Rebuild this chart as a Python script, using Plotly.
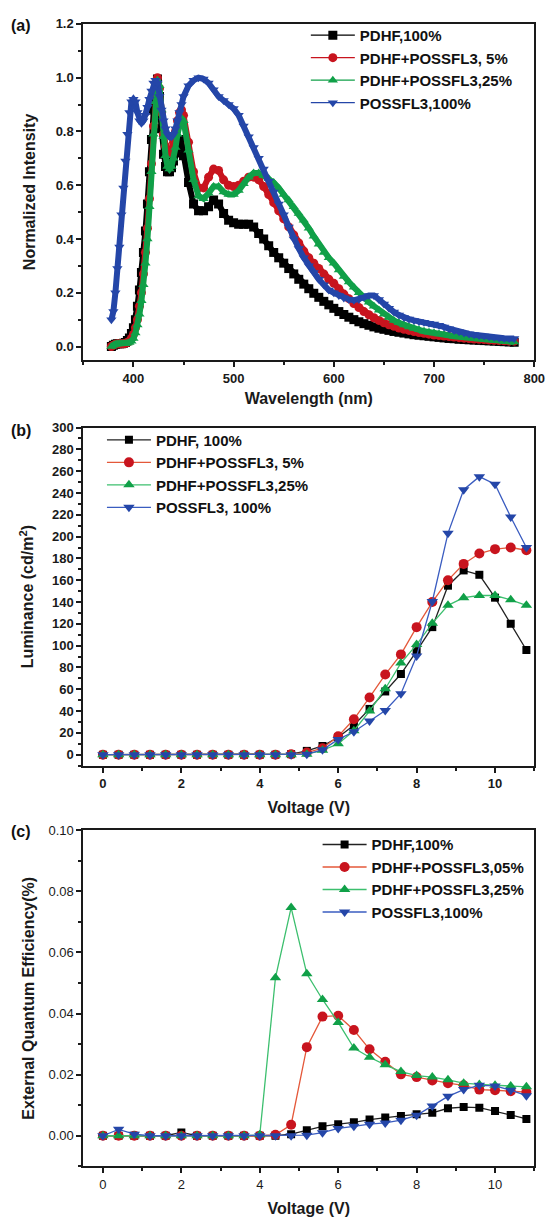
import plotly.graph_objects as go

# ---------------- data ----------------
wavelength = [378, 380, 382, 384, 386, 388, 390, 392, 394, 396, 398,
              400, 402, 404, 406, 408, 410, 412, 414, 416, 418, 420, 422, 424, 426, 428,
              430, 432, 434, 436, 438, 440, 442, 444, 446, 448, 450,
              455, 460, 465, 470, 475, 480, 485, 490, 495, 500, 505, 510, 515, 520,
              525, 530, 535, 540, 545, 550, 555, 560, 565, 570, 575, 580, 585, 590,
              595, 600, 605, 610, 615, 620, 625, 630, 635, 640, 645, 650, 655, 660,
              665, 670, 675, 680, 685, 690, 695, 700, 705, 710, 715, 720, 725, 730,
              735, 740, 745, 750, 755, 760, 765, 770, 775, 780]

pl_pdhf = [0.000, 0.005, 0.008, 0.010, 0.010, 0.010, 0.012, 0.015, 0.022, 0.032, 0.048,
           0.070, 0.100, 0.150, 0.210, 0.275, 0.350, 0.430, 0.530, 0.650, 0.770, 0.880, 0.970, 0.995, 0.930, 0.810,
           0.715, 0.670, 0.650, 0.650, 0.665, 0.690, 0.720, 0.750, 0.770, 0.760, 0.710,
           0.610, 0.530, 0.505, 0.505, 0.520, 0.545, 0.530, 0.495, 0.470, 0.460, 0.455, 0.455, 0.455, 0.445,
           0.420, 0.400, 0.375, 0.350, 0.330, 0.310, 0.290, 0.270, 0.250, 0.232, 0.215, 0.198, 0.183, 0.168,
           0.155, 0.142, 0.130, 0.119, 0.109, 0.100, 0.092, 0.085, 0.079, 0.073, 0.068, 0.064, 0.060, 0.056,
           0.053, 0.050, 0.047, 0.044, 0.042, 0.040, 0.038, 0.036, 0.034, 0.032, 0.030, 0.029, 0.027, 0.026,
           0.025, 0.024, 0.023, 0.022, 0.021, 0.020, 0.019, 0.018, 0.017, 0.016]
pl_5 = [0.000, 0.005, 0.008, 0.010, 0.010, 0.010, 0.010, 0.012, 0.015, 0.020, 0.030,
        0.045, 0.070, 0.100, 0.150, 0.200, 0.270, 0.350, 0.440, 0.550, 0.680, 0.820, 0.940, 1.000, 0.960, 0.870,
        0.790, 0.745, 0.725, 0.720, 0.730, 0.760, 0.800, 0.840, 0.870, 0.880, 0.860,
        0.760, 0.650, 0.590, 0.590, 0.630, 0.660, 0.655, 0.620, 0.600, 0.595, 0.600, 0.615, 0.630, 0.630,
        0.620, 0.595, 0.565, 0.535, 0.505, 0.475, 0.445, 0.415, 0.385, 0.355, 0.330, 0.310, 0.290, 0.270,
        0.250, 0.235, 0.215, 0.195, 0.178, 0.160, 0.145, 0.130, 0.118, 0.107, 0.097, 0.088, 0.081, 0.075,
        0.069, 0.064, 0.060, 0.056, 0.052, 0.049, 0.046, 0.043, 0.041, 0.039, 0.037, 0.035, 0.033, 0.031,
        0.030, 0.028, 0.027, 0.026, 0.024, 0.023, 0.022, 0.021, 0.020, 0.020]
pl_25 = [0.000, 0.005, 0.008, 0.010, 0.010, 0.010, 0.010, 0.010, 0.012, 0.015, 0.020,
         0.030, 0.050, 0.080, 0.120, 0.170, 0.230, 0.310, 0.400, 0.520, 0.650, 0.790, 0.910, 0.990, 0.970, 0.880,
         0.780, 0.710, 0.670, 0.660, 0.670, 0.700, 0.740, 0.790, 0.830, 0.850, 0.840,
         0.730, 0.620, 0.560, 0.550, 0.570, 0.595, 0.595, 0.575, 0.565, 0.565, 0.580, 0.605, 0.630, 0.645,
         0.645, 0.635, 0.625, 0.610, 0.590, 0.565, 0.545, 0.520, 0.495, 0.470, 0.440, 0.410, 0.380, 0.350,
         0.330, 0.310, 0.285, 0.260, 0.240, 0.220, 0.200, 0.180, 0.165, 0.150, 0.135, 0.120, 0.108, 0.097,
         0.088, 0.080, 0.073, 0.067, 0.062, 0.057, 0.053, 0.050, 0.047, 0.044, 0.041, 0.038, 0.036, 0.034,
         0.032, 0.030, 0.028, 0.026, 0.024, 0.022, 0.021, 0.019, 0.018, 0.017]
pl_poss = [0.100, 0.130, 0.200, 0.290, 0.370, 0.490, 0.590, 0.690, 0.790, 0.870, 0.910,
           0.920, 0.910, 0.870, 0.840, 0.830, 0.840, 0.860, 0.890, 0.920, 0.950, 0.980, 0.990, 0.980, 0.930, 0.880,
           0.840, 0.810, 0.790, 0.780, 0.780, 0.790, 0.810, 0.840, 0.870, 0.900, 0.930,
           0.970, 0.990, 1.000, 0.995, 0.980, 0.955, 0.930, 0.915, 0.900, 0.885, 0.860, 0.820, 0.780, 0.740,
           0.700, 0.660, 0.615, 0.575, 0.530, 0.490, 0.445, 0.400, 0.365, 0.330, 0.300, 0.275, 0.250, 0.230,
           0.210, 0.200, 0.190, 0.180, 0.175, 0.172, 0.175, 0.183, 0.190, 0.190, 0.175, 0.158, 0.142, 0.128,
           0.117, 0.108, 0.102, 0.097, 0.093, 0.090, 0.087, 0.084, 0.079, 0.073, 0.066, 0.060, 0.055, 0.050,
           0.047, 0.044, 0.041, 0.039, 0.036, 0.034, 0.032, 0.031, 0.030, 0.030]

voltage = [0, 0.4, 0.8, 1.2, 1.6, 2.0, 2.4, 2.8, 3.2, 3.6, 4.0, 4.4, 4.8, 5.2,
           5.6, 6.0, 6.4, 6.8, 7.2, 7.6, 8.0, 8.4, 8.8, 9.2, 9.6, 10.0, 10.4, 10.8]

lum_pdhf = [0, 0, 0, 0, 0, 0, 0, 0, 0, 0, 0, 0, 0.5, 3.5,
            8, 16, 27, 42, 58, 74, 95, 117, 155, 169, 165, 144, 120, 96]
lum_5 = [0, 0, 0, 0, 0, 0, 0, 0, 0, 0, 0, 0, 0.5, 2,
         6, 17, 32.5, 52.5, 73.5, 92, 117, 140, 160, 175, 184.5, 188.5, 190, 187.5]
lum_25 = [0, 0, 0, 0, 0, 0, 0, 0, 0, 0, 0, 0, 0, 0.5,
          4, 10, 22, 40, 60.5, 84, 101, 120.5, 137, 144, 146, 146, 142, 137]
lum_poss = [0, 0, 0, 0, 0, 0, 0, 0, 0, 0, 0, 0, 0, 0.5,
            4.5, 14, 21, 31, 40.5, 56, 90.5, 140.5, 203, 243, 255, 248, 218, 190]

eqe_pdhf = [0, 0, 0, 0, 0, 0.0011, 0, 0, 0, 0, 0, 0, 0.0005, 0.0018,
            0.0031, 0.0038, 0.0044, 0.0053, 0.0060, 0.0065, 0.0070, 0.0075, 0.0090, 0.0094, 0.0092, 0.0081, 0.0068, 0.0055]
eqe_05 = [0, 0, 0, 0, 0, 0, 0, 0, 0, 0, 0, 0.0003, 0.0036, 0.0290,
          0.0390, 0.0393, 0.0346, 0.0283, 0.0242, 0.0201, 0.0192, 0.0181, 0.0172, 0.0165, 0.0151, 0.0149, 0.0146, 0.0143]
eqe_25 = [0, 0, 0, 0, 0, 0, 0, 0, 0, 0, 0.0003, 0.0517, 0.0747, 0.0530,
          0.0446, 0.0371, 0.0287, 0.0257, 0.0232, 0.0210, 0.0197, 0.0192, 0.0183, 0.0172, 0.0168, 0.0165, 0.0163, 0.0160]
eqe_poss = [0, 0.0021, 0.0005, 0, 0, 0, 0, 0, 0, 0, 0, 0, 0, 0.0002,
            0.0010, 0.0024, 0.0031, 0.0038, 0.0042, 0.0051, 0.0067, 0.0097, 0.0129, 0.0151, 0.0165, 0.0163, 0.0149, 0.0131]

names_a = ["PDHF,100%", "PDHF+POSSFL3, 5%", "PDHF+POSSFL3,25%", "POSSFL3,100%"]
names_b = ["PDHF, 100%", "PDHF+POSSFL3, 5%", "PDHF+POSSFL3,25%", "POSSFL3, 100%"]
names_c = ["PDHF,100%", "PDHF+POSSFL3,05%", "PDHF+POSSFL3,25%", "POSSFL3,100%"]

# ---------------- styles ----------------
W, H = 557, 1218
marker_cols = ["#000000", "#c8141e", "#10a048", "#2446a8"]
line_cols_a = ["#000000", "#c8141e", "#10a048", "#2446a8"]
line_cols_bc = ["#222222", "#e4583a", "#3cbf6e", "#3a5cc0"]
symbols = ["square", "circle", "triangle-up", "triangle-down"]
FONT = "Liberation Sans, Arial, sans-serif"


def px_x(p):
    return p / W


def px_y(p):
    return 1 - p / H


fig = go.Figure()

# panel (a): thick band underneath + markers with thin line (legend)
for i, ys in enumerate([pl_pdhf, pl_5, pl_25, pl_poss]):
    fig.add_trace(go.Scatter(
        x=wavelength, y=ys, mode="lines", showlegend=False, hoverinfo="skip",
        line=dict(color=line_cols_a[i], width=6),
        xaxis="x", yaxis="y", legend="legend"))
    fig.add_trace(go.Scatter(
        x=wavelength, y=ys, name=names_a[i], mode="lines+markers",
        line=dict(color=line_cols_a[i], width=1.2),
        marker=dict(symbol=symbols[i], size=9, color=marker_cols[i], line=dict(width=0)),
        xaxis="x", yaxis="y", legend="legend"))

# panel (b)
for i, ys in enumerate([lum_pdhf, lum_5, lum_25, lum_poss]):
    fig.add_trace(go.Scatter(
        x=voltage, y=ys, name=names_b[i], mode="lines+markers",
        line=dict(color=line_cols_bc[i], width=1.3),
        marker=dict(symbol=symbols[i], size=10 if i else 8, color=marker_cols[i], line=dict(width=0)),
        xaxis="x2", yaxis="y2", legend="legend2"))

# panel (c)
for i, ys in enumerate([eqe_pdhf, eqe_05, eqe_25, eqe_poss]):
    fig.add_trace(go.Scatter(
        x=voltage, y=ys, name=names_c[i], mode="lines+markers",
        line=dict(color=line_cols_bc[i], width=1.3),
        marker=dict(symbol=symbols[i], size=10 if i else 8, color=marker_cols[i], line=dict(width=0)),
        xaxis="x3", yaxis="y3", legend="legend3"))

xdom = [px_x(85), px_x(545)]


def axis(rng, dtick, minor_dtick, dom, anchor, title, bold_ticks=True, fmt=None, standoff=10):
    d = dict(
        range=rng, domain=dom, anchor=anchor, dtick=dtick, tick0=0,
        showline=True, linewidth=2, linecolor="#1a1a1a", mirror=True,
        ticks="outside", ticklen=5, tickwidth=1.5, tickcolor="#1a1a1a",
        minor=dict(ticks="outside", ticklen=3, tickwidth=1.5, tickcolor="#1a1a1a", dtick=minor_dtick),
        showgrid=False, zeroline=False,
        tickfont=dict(family=FONT, size=13, color="#1a1a1a",
                      weight="bold" if bold_ticks else "normal"),
        title=dict(text=title, font=dict(family=FONT, size=16, color="#1a1a1a", weight="bold"),
                   standoff=standoff),
    )
    if fmt:
        d["tickformat"] = fmt
    return d


fig.update_layout(
    width=W, height=H,
    margin=dict(l=0, r=0, t=0, b=0),
    paper_bgcolor="white", plot_bgcolor="white",
    font=dict(family=FONT, color="#1a1a1a"),
    xaxis=axis([350, 800], 100, 50, xdom, "y", "Wavelength (nm)", standoff=8),
    yaxis=axis([-0.05, 1.2], 0.2, 0.1, [px_y(355), px_y(17)], "x", "Normalized Intensity",
               fmt=".1f", standoff=16),
    xaxis2=axis([-0.5, 11], 2, 1, xdom, "y2", "Voltage (V)", standoff=12),
    yaxis2=axis([-10, 300], 20, 10, [px_y(763), px_y(423)], "x2", "Luminance (cd/m<sup>2</sup>)",
                standoff=14),
    xaxis3=axis([-0.5, 11], 2, 1, xdom, "y3", "Voltage (V)", bold_ticks=False, standoff=12),
    yaxis3=axis([-0.01, 0.10], 0.02, 0.01, [px_y(1166), px_y(828)], "x3",
                "External Quantum Efficiency(%)", bold_ticks=False, fmt=".2f", standoff=10),
    legend=dict(x=px_x(312), y=px_y(12), xanchor="left", yanchor="top",
                bgcolor="rgba(0,0,0,0)", itemwidth=44, tracegroupgap=0,
                font=dict(family=FONT, size=15, color="#111111", weight="bold")),
    legend2=dict(x=px_x(104), y=px_y(419), xanchor="left", yanchor="top",
                 bgcolor="rgba(0,0,0,0)", itemwidth=44,
                 font=dict(family=FONT, size=15, color="#111111", weight="bold")),
    legend3=dict(x=px_x(324), y=px_y(826), xanchor="left", yanchor="top",
                 bgcolor="rgba(0,0,0,0)", itemwidth=44,
                 font=dict(family=FONT, size=15, color="#111111", weight="bold")),
    showlegend=True,
)

for lab, yy in [("(a)", 19), ("(b)", 426), ("(c)", 829)]:
    fig.add_annotation(text=lab, x=px_x(21), y=px_y(yy), xref="paper", yref="paper",
                       showarrow=False, xanchor="center", yanchor="middle",
                       font=dict(family=FONT, size=16, color="#111111", weight="bold"))

fig.write_html("out.html", config={"displayModeBar": False},
               post_script="document.body.style.margin='0';")
